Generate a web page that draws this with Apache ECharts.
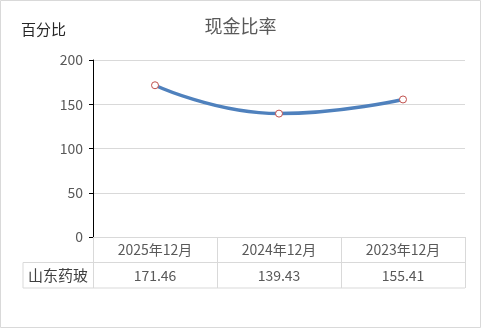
<!DOCTYPE html>
<html><head><meta charset="utf-8">
<script src="https://cdn.jsdelivr.net/npm/echarts@6/dist/echarts.min.js"></script>
<style>html,body{margin:0;padding:0;background:#fff}#c{width:481px;height:328px}</style>
</head><body><div id="c"></div>
<script>
const categories = ['2025年12月', '2024年12月', '2023年12月'];
const values = [171.46, 139.43, 155.41];
const seriesName = '山东药玻';
const chartTitle = '现金比率';
const yName = '百分比';
const yMin = 0, yMax = 200, yInterval = 50;

const FONT = '"Noto Sans CJK SC", "Microsoft YaHei", sans-serif';
const G = {left: 93, right: 16, top: 60, bottom: 91};
const W = 481, H = 328;
const plotRight = W - G.right, plotBottom = H - G.bottom;
const rowH = 25.5;
const tableLeft = 23;
const lineColor = '#d9d9d9';

const chart = echarts.init(document.getElementById('c'), null, {renderer: 'canvas'});
chart.setOption({
  animation: false,
  textStyle: {fontFamily: FONT},
  title: [
    {text: chartTitle, left: 'center', top: 12, textStyle: {fontSize: 18, fontWeight: 'normal', color: '#595959', fontFamily: FONT}},
    {text: yName, left: 16, top: 17, textStyle: {fontSize: 15, fontWeight: 'normal', color: '#262626', fontFamily: FONT}}
  ],
  grid: G,
  xAxis: {
    type: 'category', data: categories, boundaryGap: true,
    axisLine: {show: true, lineStyle: {color: lineColor, width: 1}},
    axisTick: {show: true, length: rowH * 2, lineStyle: {color: lineColor}},
    splitLine: {show: false},
    axisLabel: {
      margin: 0, interval: 0,
      formatter: (v, i) => `{h|${v}}\n{v|${values[i].toFixed(2)}}`,
      rich: {
        h: {fontSize: 14, lineHeight: rowH, color: '#595959', fontFamily: FONT},
        v: {fontSize: 14, lineHeight: rowH, color: '#595959', fontFamily: FONT}
      }
    }
  },
  yAxis: {
    type: 'value', min: yMin, max: yMax, interval: yInterval,
    axisLine: {show: true, lineStyle: {color: '#000', width: 1}},
    axisTick: {show: true, length: 4, lineStyle: {color: '#000'}},
    axisLabel: {fontSize: 14, color: '#595959', margin: 10, fontFamily: FONT},
    splitLine: {show: true, lineStyle: {color: lineColor, width: 1}}
  },
  series: [{
    name: seriesName, type: 'line', data: values, smooth: 0.5,
    symbol: 'circle', symbolSize: 7,
    lineStyle: {color: '#4f81bd', width: 3.5},
    itemStyle: {color: '#fff', borderColor: '#c0504d', borderWidth: 1},
    z: 3
  }],
  graphic: [
    {type: 'rect', shape: {x: 0.5, y: 0.5, width: W - 1, height: H - 1}, style: {fill: null, stroke: lineColor, lineWidth: 1}, silent: true},
    {type: 'line', shape: {x1: tableLeft, y1: plotBottom + rowH, x2: plotRight, y2: plotBottom + rowH}, style: {stroke: lineColor, lineWidth: 1}},
    {type: 'line', shape: {x1: tableLeft, y1: plotBottom + 2 * rowH, x2: plotRight, y2: plotBottom + 2 * rowH}, style: {stroke: lineColor, lineWidth: 1}},
    {type: 'line', shape: {x1: tableLeft, y1: plotBottom + rowH, x2: tableLeft, y2: plotBottom + 2 * rowH}, style: {stroke: lineColor, lineWidth: 1}},
    {type: 'text', x: (tableLeft + G.left) / 2, y: plotBottom + 1.5 * rowH,
     style: {text: seriesName, fontSize: 15, fill: '#404040', fontFamily: FONT, align: 'center', verticalAlign: 'middle'}}
  ]
});
</script></body></html>
